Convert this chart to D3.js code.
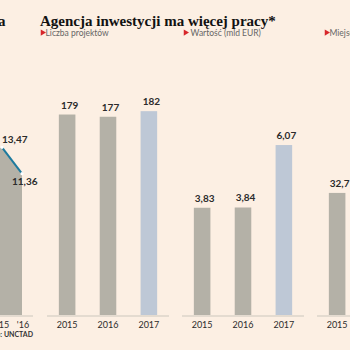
<!DOCTYPE html>
<html>
<head>
<meta charset="utf-8">
<script src="https://cdn.jsdelivr.net/npm/d3@7"></script>
<style>
  html, body { margin: 0; padding: 0; background: #fcefe3; }
  svg { display: block; }
</style>
</head>
<body>
<div id="chart"></div>
<script>
// data
const years = ["2015", "2016", "2017"];
const projects = [179, 177, 182];
const valueEur = [3.83, 3.84, 6.07];
const jobsYears = ["2015"];
const jobs = [32.7];
const leftYears = ["'15", "'16"];
const leftValues = [13.47, 11.36];
const panelTitles = ["Liczba projektów", " Wartość (mld EUR)", "Miejsca pracy (tys.)"];

/*******************************/
/*    Constants                */
/*******************************/
const width = 350;
const height = 350;
const baseY = 315;
const topY = 91;
const panelW = 122;
const panelStep = 135;
const firstPanelX = 47;
const subtitleX = [41, 184, 325];
const bg = "#fcefe3";
const grayBar = "#b4b1a7";
const blueBar = "#bec8d6";
const axisColor = "#ddd4ca";
const textColor = "#2b2b2b";

const pl = d3.formatLocale({decimal: ",", thousands: " ", grouping: [3], currency: ["", ""]});

const svg = d3.select("#chart")
  .append("svg")
    .attr("width", width)
    .attr("height", height)
    .attr("viewBox", `0 0 ${width} ${height}`);

svg.append("rect")
  .attr("width", width)
  .attr("height", height)
  .attr("fill", bg);

// titles
svg.append("text")
  .text("a")
  .attr("x", 5.5)
  .attr("y", 26)
  .attr("text-anchor", "end")
  .attr("font-family", "Liberation Serif")
  .attr("font-weight", 700)
  .attr("font-size", 15)
  .attr("fill", "#111");

svg.append("text")
  .text("Agencja inwestycji ma więcej pracy*")
  .attr("x", 40)
  .attr("y", 26)
  .attr("font-family", "Liberation Serif")
  .attr("font-weight", 700)
  .attr("font-size", 15)
  .attr("fill", "#111");

// subtitles with red markers
panelTitles.forEach((t, i) => {
  svg.append("path")
    .attr("d", d3.symbol().type(d3.symbolTriangle).size(16)())
    .attr("transform", `translate(${subtitleX[i] + 1.5}, 32.6) rotate(90)`)
    .attr("fill", "#d7262b");
  svg.append("text")
    .text(t)
    .attr("x", subtitleX[i] + 4.5)
    .attr("y", 35.5)
    .attr("font-family", "Lato")
    .attr("font-size", 8.5)
    .attr("fill", "#666")
    .style("white-space", "pre");
});

/*******************************/
/*    Left area panel          */
/*******************************/
const xLeft = d3.scalePoint().domain(leftYears).range([2, 22]);
const yLeft = d3.scaleLinear().domain([0, 18]).range([baseY, topY]);
const leftData = leftYears.map((y, i) => ({year: y, value: leftValues[i]}));

svg.append("path")
  .datum(leftData)
  .attr("fill", grayBar)
  .attr("d", d3.area()
    .x(d => xLeft(d.year))
    .y0(baseY)
    .y1(d => yLeft(d.value)));

svg.append("rect")
  .attr("x", 0).attr("y", yLeft(leftValues[0]))
  .attr("width", xLeft(leftYears[0]))
  .attr("height", baseY - yLeft(leftValues[0]))
  .attr("fill", grayBar);

svg.append("path")
  .datum(leftData)
  .attr("fill", "none")
  .attr("stroke", "#1d7a9e")
  .attr("stroke-width", 2)
  .attr("d", d3.line()
    .x(d => xLeft(d.year))
    .y(d => yLeft(d.value)));

svg.selectAll(".dot")
  .data(leftData)
  .join("circle")
    .attr("cx", d => xLeft(d.year))
    .attr("cy", d => yLeft(d.value))
    .attr("r", 1.6)
    .attr("fill", "#fff");

svg.selectAll(".leftLabel")
  .data(leftData)
  .join("text")
    .text(d => pl.format(".2f")(d.value))
    .attr("x", (d, i) => xLeft(d.year) + (i === 0 ? 0 : -10))
    .attr("y", (d, i) => yLeft(d.value) + (i === 0 ? -4 : 11))
    .attr("font-family", "Lato")
    .attr("font-weight", 700)
    .attr("font-size", 10)
    .attr("fill", textColor);

svg.append("line")
  .attr("x1", 0).attr("x2", 33)
  .attr("y1", baseY + 1).attr("y2", baseY + 1)
  .attr("stroke", axisColor)
  .attr("stroke-width", 1.5);

svg.selectAll(".leftTick")
  .data(leftYears)
  .join("text")
    .text(d => d)
    .attr("x", d => xLeft(d) + 1)
    .attr("y", baseY + 12.5)
    .attr("text-anchor", "middle")
    .attr("font-family", "Lato")
    .attr("font-size", 9)
    .attr("fill", textColor);

svg.append("text")
  .text("Źródło: UNCTAD")
  .attr("x", 33)
  .attr("y", 336.5)
  .attr("text-anchor", "end")
  .attr("font-family", "Lato")
  .attr("font-weight", 700)
  .attr("font-size", 7)
  .attr("fill", "#333");

/*******************************/
/*    Bar panels               */
/*******************************/
const panels = [
  {cats: years, values: projects, max: 200, fmt: pl.format("d")},
  {cats: years, values: valueEur, max: 8, fmt: pl.format(".2f")},
  {cats: jobsYears, values: jobs, max: 60, fmt: pl.format(".1f")}
];

panels.forEach((p, i) => {
  const x0 = firstPanelX + i * panelStep;
  const g = svg.append("g");

  const xScale = d3.scaleBand()
    .domain(years)
    .range([x0, x0 + panelW])
    .paddingInner(0.595)
    .paddingOuter(0.29);
  const yScale = d3.scaleLinear()
    .domain([0, p.max])
    .range([baseY, topY]);

  const data = p.cats.map((c, j) => ({year: c, value: p.values[j]}));

  g.selectAll("rect.bar")
    .data(data)
    .join("rect")
      .attr("class", "bar")
      .attr("x", d => xScale(d.year))
      .attr("y", d => yScale(d.value))
      .attr("width", xScale.bandwidth())
      .attr("height", d => baseY - yScale(d.value))
      .attr("fill", d => d.year === "2017" ? blueBar : grayBar);

  g.selectAll("text.val")
    .data(data)
    .join("text")
      .attr("class", "val")
      .text(d => p.fmt(d.value))
      .attr("x", d => xScale(d.year) + xScale.bandwidth() / 2 + 2.5)
      .attr("y", d => yScale(d.value) - 6)
      .attr("text-anchor", "middle")
      .attr("font-family", "Lato")
      .attr("font-weight", 700)
      .attr("font-size", 10)
      .attr("fill", textColor);

  g.append("line")
    .attr("x1", x0).attr("x2", x0 + panelW)
    .attr("y1", baseY + 1).attr("y2", baseY + 1)
    .attr("stroke", axisColor)
    .attr("stroke-width", 1.5);

  g.selectAll("text.tick")
    .data(p.cats)
    .join("text")
      .attr("class", "tick")
      .text(d => d)
      .attr("x", d => xScale(d) + xScale.bandwidth() / 2)
      .attr("y", baseY + 12.5)
      .attr("text-anchor", "middle")
      .attr("font-family", "Lato")
      .attr("font-size", 9)
      .attr("fill", textColor);
});
</script>
</body>
</html>
